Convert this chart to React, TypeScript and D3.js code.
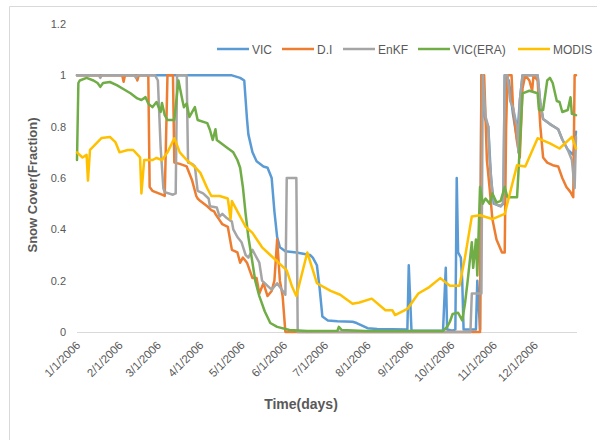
import React from "react";
import * as d3 from "d3";

// Daily snow-cover fraction for 2006; each entry is [day of year (0 = Jan 1), fraction]
const seriesNames = ["VIC", "D.I", "EnKF", "VIC(ERA)", "MODIS"];
const seriesColors = ["#5B9BD5", "#ED7D31", "#A5A5A5", "#70AD47", "#FFC000"];

const vic: [number, number][] = [
  [0, 1], [113, 1], [119, 0.99], [122, 0.98], [124, 0.83], [125, 0.77], [128, 0.7], [131, 0.665],
  [136, 0.645], [139, 0.64], [142, 0.6], [144, 0.47], [146, 0.37], [148, 0.33], [152, 0.315],
  [160, 0.31], [165, 0.305], [170, 0.3], [172, 0.29], [175, 0.26], [177, 0.17], [179, 0.06],
  [183, 0.045], [190, 0.042], [201, 0.04], [204, 0.035], [208, 0.025], [212, 0.015], [219, 0.012],
  [241, 0.01], [242, 0.26], [244, 0.005], [267, 0.005], [269, 0.25], [270, 0.01], [274, 0.005],
  [276, 0.01], [277, 0.6], [278, 0.31], [280, 0.29], [281, 0.2], [282, 0.01], [291, 0.01],
  [292, 0.2], [294, 0.01], [295, 1.0], [297, 0.84], [300, 0.8], [302, 0.6], [304, 0.5], [309, 0.49],
  [311, 0.5], [312, 1.0], [315, 0.98], [318, 0.85], [321, 0.75], [323, 0.9], [325, 1.0], [336, 1.0],
  [338, 0.89], [340, 0.83], [345, 0.81], [351, 0.79], [354, 0.75], [358, 0.71], [362, 0.69], [364, 0.78],
];

const di: [number, number][] = [
  [0, 1], [33, 1], [34, 0.975], [35, 1], [43, 1], [44, 0.98], [45, 1], [52, 1], [53, 0.565],
  [55, 0.55], [62, 0.535], [64, 0.53], [66, 1.0], [70, 1.0], [71, 0.66], [75, 0.655], [80, 0.645],
  [84, 0.59], [87, 0.53], [88, 0.52], [90, 0.51], [95, 0.49], [98, 0.475], [100, 0.47], [101, 0.46],
  [104, 0.436], [106, 0.42], [110, 0.41], [113, 0.32], [117, 0.31], [119, 0.27], [121, 0.29],
  [124, 0.27], [128, 0.21], [131, 0.21], [133, 0.15], [136, 0.19], [139, 0.14], [142, 0.16],
  [144, 0.2], [146, 0.36], [148, 0.2], [150, 0.14], [152, 0], [294, 0], [295, 1.0], [297, 1.0],
  [299, 0.67], [301, 0.56], [303, 0.44], [306, 0.36], [310, 0.31], [312, 0.31], [313, 0.79],
  [314, 1.0], [317, 1.0], [318, 0.88], [321, 0.74], [323, 0.68], [325, 0.95], [327, 1], [330, 0.98],
  [332, 0.94], [333, 1], [336, 0.98], [338, 0.8], [340, 0.68], [343, 0.66], [347, 0.65], [351, 0.645],
  [354, 0.6], [357, 0.565], [360, 0.545], [362, 0.525], [363, 1.0], [364, 1.0],
];

const enkf: [number, number][] = [
  [0, 1], [16, 1], [17, 0.99], [18, 1], [42, 1], [43, 0.99], [44, 1], [57, 1], [59, 0.98],
  [61, 0.72], [63, 0.56], [64, 0.545], [70, 0.535], [72, 0.54], [73, 1.0], [80, 1.0], [81, 0.66],
  [84, 0.655], [86, 0.645], [88, 0.55], [92, 0.54], [96, 0.52], [97, 0.49], [102, 0.485],
  [104, 0.45], [106, 0.46], [109, 0.445], [113, 0.43], [114, 0.4], [117, 0.37], [120, 0.35],
  [123, 0.3], [125, 0.29], [128, 0.32], [130, 0.3], [133, 0.27], [135, 0.2], [139, 0.18],
  [142, 0.165], [146, 0.19], [148, 0.175], [152, 0.145], [153, 0.6], [160, 0.6], [161, 0],
  [287, 0], [288, 0.15], [295, 0.15], [296, 1.0], [298, 0.84], [300, 0.8], [301, 0.67], [303, 0.54],
  [305, 0.5], [309, 0.49], [311, 0.505], [312, 1.0], [314, 1.0], [316, 0.9], [318, 0.875],
  [321, 0.8], [322, 0.7], [323, 0.9], [325, 1.0], [336, 1.0], [338, 0.89], [340, 0.83], [345, 0.81],
  [351, 0.79], [354, 0.75], [358, 0.71], [361, 0.67], [363, 0.56], [364, 0.76],
];

const vicEra: [number, number][] = [
  [0, 0.67], [1, 0.97], [2, 0.98], [7, 0.99], [12, 0.98], [15, 0.97], [17, 0.955], [19, 0.97],
  [24, 0.974], [29, 0.962], [35, 0.943], [39, 0.93], [44, 0.91], [47, 0.904], [50, 0.915],
  [52, 0.89], [55, 0.876], [58, 0.896], [61, 0.857], [62, 0.892], [64, 0.845], [66, 0.826],
  [71, 0.826], [74, 0.98], [77, 0.9], [78, 0.876], [80, 0.89], [82, 0.838], [86, 0.876], [88, 0.826],
  [95, 0.814], [97, 0.787], [99, 0.748], [101, 0.79], [102, 0.748], [109, 0.72], [114, 0.7],
  [117, 0.67], [119, 0.64], [121, 0.565], [123, 0.46], [125, 0.37], [128, 0.27], [130, 0.2],
  [133, 0.14], [137, 0.08], [141, 0.035], [146, 0.02], [155, 0.008], [168, 0.004], [190, 0.005],
  [191, 0.02], [193, 0.008], [210, 0.004], [267, 0.004], [270, 0.02], [272, 0.04], [274, 0.07],
  [278, 0.075], [281, 0.045], [283, 0.11], [285, 0.2], [288, 0.35], [289, 0.25], [291, 0.36],
  [292, 0.22], [294, 0.565], [296, 0.5], [298, 0.52], [301, 0.5], [303, 0.54], [306, 0.505],
  [309, 0.51], [312, 0.565], [314, 0.525], [321, 0.525], [322, 0.62], [325, 0.93], [330, 0.94],
  [336, 0.93], [337, 0.865], [340, 0.865], [343, 0.98], [345, 0.99], [347, 0.97], [350, 0.9],
  [352, 0.896], [354, 0.857], [358, 0.865], [360, 0.915], [361, 0.85], [364, 0.845],
];

const modis: [number, number][] = [
  [0, 0.7], [4, 0.68], [7, 0.69], [8, 0.59], [9.5, 0.71], [15, 0.74], [18, 0.756], [24, 0.76],
  [28, 0.74], [31, 0.7], [37, 0.709], [41, 0.709], [46, 0.68], [47, 0.54], [49, 0.67], [55, 0.67],
  [58, 0.678], [62, 0.67], [66, 0.7], [71, 0.755], [75, 0.7], [80, 0.67], [86, 0.643], [90, 0.62],
  [95, 0.56], [98, 0.53], [104, 0.53], [110, 0.52], [112, 0.44], [113, 0.51], [117, 0.47],
  [123, 0.41], [128, 0.386], [135, 0.33], [141, 0.3], [147, 0.27], [153, 0.24], [157, 0.175],
  [160, 0.14], [168, 0.31], [175, 0.19], [185, 0.16], [192, 0.145], [201, 0.11], [206, 0.115],
  [215, 0.13], [225, 0.085], [230, 0.085], [232, 0.066], [241, 0.09], [249, 0.15], [257, 0.175],
  [265, 0.21], [272, 0.18], [279, 0.18], [283, 0.29], [288, 0.45], [294, 0.455], [303, 0.44],
  [312, 0.46], [321, 0.65], [327, 0.645], [336, 0.755], [345, 0.735], [352, 0.715], [361, 0.76],
  [364, 0.715],
];

const seriesData = [vic, di, enkf, vicEra, modis];
const yTicks = [0, 0.2, 0.4, 0.6, 0.8, 1, 1.2];
const yTickLabels = ["0", "0.2", "0.4", "0.6", "0.8", "1", "1.2"];

const W = 597;
const H = 440;
const DAY_MS = 86400000;
const start = new Date(Date.UTC(2006, 0, 1));
const end = new Date(Date.UTC(2006, 11, 31));

const FONT = "'Liberation Sans', Arial, sans-serif";
const TEXT = "#595959";

export default function App() {
  const x = d3.scaleUtc().domain([start, end]).range([77, 576]);
  const y = d3.scaleLinear().domain([0, 1.2]).range([332, 24]);
  const dayToDate = (day: number) => new Date(start.getTime() + day * DAY_MS);
  const line = d3
    .line<[number, number]>()
    .x((d) => x(dayToDate(d[0])))
    .y((d) => y(d[1]));

  const months = d3.utcMonth.range(start, d3.utcDay.offset(end, 1));
  const fmt = d3.utcFormat("%-m/%-d/%Y");

  // legend layout: line start x for each entry
  const legendX = [217, 282, 343, 418, 518];

  return (
    <svg
      width={W}
      height={H}
      style={{ position: "absolute", left: 0, top: 0, background: "#fff" }}
      fontFamily={FONT}
    >
      <rect x={0} y={0} width={W} height={H} fill="#fff" />
      {/* chart frame */}
      <path d={`M9.5,${H} V6.5 H${W}`} fill="none" stroke="#d9d9d9" strokeWidth={1} />

      {/* y axis labels */}
      {yTicks.map((t, i) => (
        <text key={t} x={66} y={y(t) + 4} textAnchor="end" fontSize={11} fill={TEXT}>
          {yTickLabels[i]}
        </text>
      ))}

      {/* x baseline */}
      <line x1={77} x2={577} y1={332.5} y2={332.5} stroke="#d9d9d9" strokeWidth={1} />

      {/* month labels */}
      {months.map((m) => (
        <text
          key={m.toISOString()}
          transform={`translate(${x(m) + 4},${346}) rotate(-45)`}
          textAnchor="end"
          fontSize={11.5}
          fill={TEXT}
        >
          {fmt(m)}
        </text>
      ))}

      {/* series */}
      {seriesData.map((s, i) => (
        <path
          key={seriesNames[i]}
          d={line(s) || ""}
          fill="none"
          stroke={seriesColors[i]}
          strokeWidth={2.5}
          strokeLinejoin="round"
          strokeLinecap="round"
        />
      ))}

      {/* legend */}
      {seriesNames.map((n, i) => (
        <g key={n}>
          <line
            x1={legendX[i]}
            x2={legendX[i] + 32}
            y1={49}
            y2={49}
            stroke={seriesColors[i]}
            strokeWidth={2.5}
          />
          <text x={legendX[i] + 35} y={53.5} fontSize={12} fill={TEXT}>
            {n}
          </text>
        </g>
      ))}

      {/* axis titles */}
      <text x={301} y={409} textAnchor="middle" fontSize={14} fontWeight="bold" fill={TEXT}>
        Time(days)
      </text>
      <text
        transform={`translate(37,185) rotate(-90)`}
        textAnchor="middle"
        fontSize={13}
        fontWeight="bold"
        fill={TEXT}
      >
        Snow Cover(Fraction)
      </text>
    </svg>
  );
}
